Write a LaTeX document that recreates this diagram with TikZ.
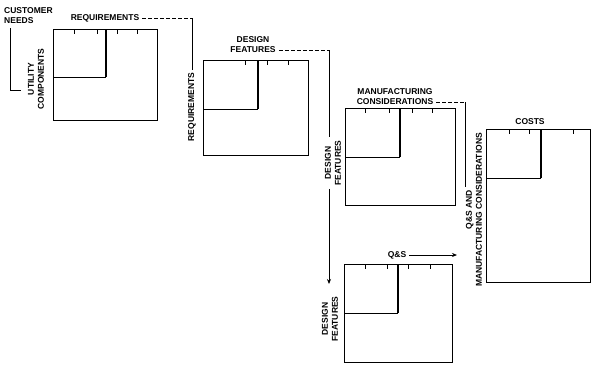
\documentclass[tikz,border=0pt]{standalone}
\usepackage{fontspec}
\setmainfont{Liberation Sans}
\usetikzlibrary{calc,arrows.meta}
\begin{document}
\begin{tikzpicture}[x=1pt,y=1pt,
  lbl/.style={font=\bfseries\fontsize{8.5}{10}\selectfont, inner sep=0pt, align=center},
  matbox/.style={draw, line width=0.6pt, inner sep=0pt, outer sep=0pt, anchor=north west},
  innerv/.style={line width=1.4pt},
  innerh/.style={line width=0.9pt},
  tickmk/.style={line width=0.7pt},
  conn/.style={line width=0.8pt},
  dconn/.style={line width=0.8pt, dash pattern=on 4pt off 2pt},
  arr/.style={-{Stealth[length=5pt,width=4pt]}}]
\useasboundingbox (0,0) rectangle (592,-365);

% matrices
\node[matbox, minimum width=104pt, minimum height=91pt] (m1) at (53,-29) {};
\node[matbox, minimum width=105pt, minimum height=95pt] (m2) at (203,-60) {};
\node[matbox, minimum width=110pt, minimum height=97pt] (m3) at (345,-108) {};
\node[matbox, minimum width=108pt, minimum height=98pt] (m4) at (344,-264) {};
\node[matbox, minimum width=104pt, minimum height=153pt] (m5) at (486,-129) {};

% inner L-shaped blocks
\draw[innerh] (106,-77) -- (53,-77);
\draw[innerv] (106,-29) -- (106,-77.4);
\draw[innerh] (258,-109) -- (203,-109);
\draw[innerv] (258,-60) -- (258,-109.4);
\draw[innerh] (400,-157) -- (345,-157);
\draw[innerv] (400,-108) -- (400,-157.4);
\draw[innerh] (398,-313) -- (344,-313);
\draw[innerv] (398,-264) -- (398,-313.4);
\draw[innerh] (541,-178) -- (486,-178);
\draw[innerv] (541,-129) -- (541,-178.4);

% ticks
\foreach \x in {74,97,117,137} \draw[tickmk] (\x,-29) -- ++(0,-5);
\foreach \x in {245,267,288} \draw[tickmk] (\x,-60) -- ++(0,-5);
\foreach \x in {365,389,412,432} \draw[tickmk] (\x,-108) -- ++(0,-5);
\foreach \x in {365,387,408,430} \draw[tickmk] (\x,-264) -- ++(0,-5);
\foreach \x in {509,529,573} \draw[tickmk] (\x,-129) -- ++(0,-5);

% labels
\node[lbl, anchor=north west, align=left] (cn) at (4,-7) {CUSTOMER\\NEEDS};
\node[lbl, rotate=90] (uc) at (36,-79) {UTILITY\\COMPONENTS};
\node[lbl] (req1) at (105,-18) {REQUIREMENTS};
\node[lbl, rotate=90] (req2) at (192,-107) {REQUIREMENTS};
\node[lbl] (df1) at (253,-45) {DESIGN\\FEATURES};
\node[lbl, rotate=90] (df2) at (333,-163) {DESIGN\\FEATURES};
\node[lbl, rotate=90] (df3) at (330,-319) {DESIGN\\FEATURES};
\node[lbl] (mc1) at (395,-97) {MANUFACTURING\\CONSIDERATIONS};
\node[lbl, rotate=90] (qm) at (474,-210) {Q\&S AND\\MANUFACTURING CONSIDERATIONS};
\node[lbl] (qs) at (397,-255) {Q\&S};
\node[lbl] (co) at (530,-122) {COSTS};

% connectors
\coordinate (b2) at (21,-90);
\draw[conn] ($(cn.south west)+(6,-5)$) |- (b2);

\coordinate (k1) at (192,-18);
\draw[dconn] ($(req1.east)+(3,0)$) -- (k1);
\draw[conn] (k1) -- ($(req2.east)+(0,3)$);

\coordinate (k2) at (329,-50);
\draw[dconn] ($(df1.east)+(3,-5)$) -- (k2);
\draw[conn] (k2) -- ($(k2 |- df2.east)+(0,3)$);
\coordinate (k3) at (329,-284);
\draw[conn, arr] ($(k2 |- df2.west)+(0,-3)$) -- (k3);

\coordinate (k4) at (465,-102);
\draw[dconn] ($(mc1.east)+(3,-5)$) -- (k4);
\draw[conn] (k4) -- ($(qm.center)+(-9,23)$);

\coordinate (k5) at (457,-255);
\draw[conn, arr] ($(qs.east)+(3,0)$) -- (k5);
\end{tikzpicture}
\end{document}
